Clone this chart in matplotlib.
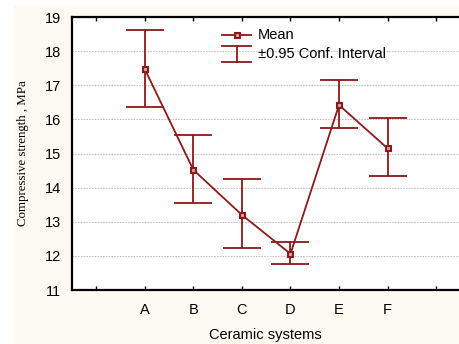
import numpy as np
import matplotlib.pyplot as plt
from matplotlib.patches import Rectangle
from matplotlib.lines import Line2D

# values
systems = ['A', 'B', 'C', 'D', 'E', 'F']
means = [17.47, 14.52, 13.20, 12.06, 16.42, 15.15]
upper = [18.62, 15.55, 14.25, 12.40, 17.14, 16.03]
lower = [16.36, 13.56, 12.24, 11.77, 15.76, 14.34]
yticks = [11, 12, 13, 14, 15, 16, 17, 18, 19]

col = '#8b1a1a'
W, H = 459, 344

fig = plt.figure(figsize=(W / 100, H / 100), dpi=100, facecolor='white')
fig.patches.append(Rectangle((14 / W, 0), 1, 1 - 6 / H, transform=fig.transFigure,
                             facecolor='#fdfaf1', edgecolor='none', zorder=-10))

left, top, bottom = 72, 17, 290
ax = fig.add_axes([left / W, 1 - bottom / H, (W - left) / W, (bottom - top) / H])
ax.set_facecolor('white')

x = np.arange(1, len(systems) + 1)
m = np.array(means)
yerr = [m - np.array(lower), np.array(upper) - m]
ax.errorbar(x, m, yerr=yerr, fmt='none', ecolor=col, elinewidth=1.3,
            capsize=14, capthick=1.3, zorder=3)
ax.plot(x, m, color=col, lw=1.3, marker='s', ms=3.6, mfc='#d9a0a0',
        mec=col, mew=1.5, zorder=4)

ax.set_xlim(-0.5, -0.5 + (W - left) / 48.55)
ax.set_ylim(11, 19)
ax.set_xticks(np.arange(0, 8))
ax.set_xticklabels([''] + systems + [''])
ax.set_yticks(yticks)
ax.tick_params(axis='x', direction='in', length=3, width=1, top=True,
               labelsize=10.5, pad=9)
ax.tick_params(axis='y', length=0, labelsize=10.5, pad=8)
for lab in ax.get_xticklabels() + ax.get_yticklabels():
    lab.set_family('Liberation Sans')
ax.grid(axis='y', color='#c4c4c4', ls=(0, (1.5, 1)), lw=0.8)
ax.set_axisbelow(True)
for s in ['left', 'bottom', 'top']:
    ax.spines[s].set_linewidth(1.6)
ax.spines['right'].set_visible(False)

ax.set_xlabel('Ceramic systems', family='Liberation Sans', fontsize=10.5, labelpad=8)
ax.set_ylabel('Compressive strength , MPa', family='Liberation Serif', fontsize=9.3,
              labelpad=11)

# legend drawn by hand, in pixel positions of the figure
def fx(px):
    return px / W

def fy(py):
    return 1 - py / H

fig.add_artist(Line2D([fx(222), fx(251)], [fy(35), fy(35)], color=col, lw=1.3,
                      transform=fig.transFigure))
fig.add_artist(Line2D([fx(236.5)], [fy(35)], color=col, marker='s', ms=3.6, mfc='#d9a0a0',
                      mec=col, mew=1.5, transform=fig.transFigure))
fig.add_artist(Line2D([fx(236.5), fx(236.5)], [fy(46), fy(62)], color=col, lw=1.3,
                      transform=fig.transFigure))
for py in [46, 62]:
    fig.add_artist(Line2D([fx(222), fx(251)], [fy(py), fy(py)], color=col, lw=1.3,
                          transform=fig.transFigure))
fig.text(fx(258), fy(35), 'Mean', family='Liberation Sans', fontsize=10.5, va='center')
fig.text(fx(258), fy(54), '\u00b10.95 Conf. Interval', family='Liberation Sans',
         fontsize=10.5, va='center')

fig.savefig('out.png', dpi=100, facecolor=fig.get_facecolor())
